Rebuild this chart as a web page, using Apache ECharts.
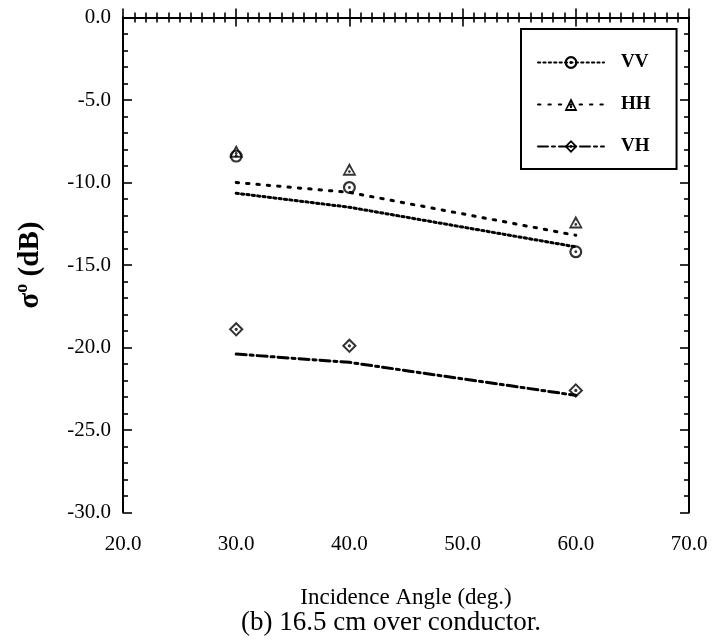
<!DOCTYPE html>
<html>
<head>
<meta charset="utf-8">
<script src="https://cdn.jsdelivr.net/npm/echarts@6/dist/echarts.min.js"></script>
<style>
html,body{margin:0;padding:0;background:#fff;}
#chart{width:714px;height:643px;}
</style>
</head>
<body>
<div id="chart"></div>
<script>
// ---- data ----
const angles = [30, 40, 60];
const vvMeasured = [-8.4, -10.3, -14.2];
const hhMeasured = [-8.1, -9.2, -12.4];
const vhMeasured = [-18.9, -19.9, -22.6];
const vvModel = [-10.65, -11.5, -13.9];
const hhModel = [-10.0, -10.6, -13.2];
const vhModel = [-20.4, -20.9, -22.9];
const xTickValues = [20, 30, 40, 50, 60, 70];
const yTickValues = [0, -5, -10, -15, -20, -25, -30];
const seriesNames = ['VV', 'HH', 'VH'];

// ---- symbols ----
const symCircle = 'path://M0,-10A10,10,0,1,1,0,10A10,10,0,1,1,0,-10ZM0,-6.6A6.6,6.6,0,1,0,0,6.6A6.6,6.6,0,1,0,0,-6.6ZM0,-2.2A2.2,2.2,0,1,1,0,2.2A2.2,2.2,0,1,1,0,-2.2Z';
const symTriangle = 'path://M0,-11L10,7L-10,7ZM0,-5.2L-6,4.2L6,4.2ZM0,-0.8A2,2,0,1,1,0,3.2A2,2,0,1,1,0,-0.8Z';
const symDiamond = 'path://M0,-10L10,0L0,10L-10,0ZM0,-6.2L-6.2,0L0,6.2L6.2,0ZM0,-2.2A2.2,2.2,0,1,1,0,2.2A2.2,2.2,0,1,1,0,-2.2Z';

const pair = (xs, ys) => xs.map((x, i) => [x, ys[i]]);
const serif = '"Liberation Serif","DejaVu Serif",serif';
const black = '#000';

function lineSeries(name, vals, dash, sym) {
  return {
    name: name, type: 'line', data: pair(angles, vals),
    symbol: sym, showSymbol: false, symbolSize: 12,
    itemStyle: {color: black},
    lineStyle: {color: black, width: 3, type: dash, cap: 'round'},
    xAxisIndex: 0, yAxisIndex: 0, z: 3, silent: true
  };
}
function scatterSeries(name, vals, sym, size) {
  return {
    name: name, type: 'scatter', data: pair(angles, vals),
    symbol: sym, symbolSize: size,
    itemStyle: {color: black},
    xAxisIndex: 0, yAxisIndex: 0, z: 4
  };
}

const axisLineStyle = {color: black, width: 2};
const tickStyle = {color: black, width: 1.6};

const option = {
  backgroundColor: '#fff',
  animation: false,
  grid: {left: 123, right: 25, top: 17.5, bottom: 130.5},
  legend: {
    data: seriesNames,
    orient: 'vertical',
    left: 521, top: 29,
    itemWidth: 66, itemHeight: 16, itemGap: 23,
    padding: [24, 26, 13, 16],
    borderColor: black, borderWidth: 2,
    backgroundColor: '#fff',
    textStyle: {fontFamily: serif, fontSize: 19, fontWeight: 'bold', color: black, padding: [0, 0, 0, 12]},
    selectedMode: false
  },
  title: {
    text: '(b) 16.5 cm over conductor.',
    left: 386, top: 604, textAlign: 'center',
    textStyle: {fontFamily: serif, fontSize: 27, fontWeight: 'normal', color: black}
  },
  xAxis: [{
    type: 'value', min: xTickValues[0], max: xTickValues[xTickValues.length - 1], interval: 10,
    position: 'bottom',
    name: 'Incidence Angle (deg.)', nameLocation: 'middle', nameGap: 74,
    nameTextStyle: {fontFamily: serif, fontSize: 23, color: black},
    axisLine: {lineStyle: axisLineStyle},
    axisTick: {inside: true, length: 9, lineStyle: tickStyle},
    minorTick: {show: true, splitNumber: 10, length: 5, lineStyle: tickStyle},
    splitLine: {show: false},
    axisLabel: {formatter: v => v.toFixed(1), fontFamily: serif, fontSize: 21, color: black, margin: 21}
  }, {
    type: 'value', min: xTickValues[0], max: xTickValues[xTickValues.length - 1], interval: 10,
    position: 'top',
    axisLine: {lineStyle: axisLineStyle},
    axisTick: {inside: true, length: 9, lineStyle: tickStyle},
    minorTick: {show: true, splitNumber: 10, length: 5, lineStyle: tickStyle},
    splitLine: {show: false},
    axisLabel: {show: false}
  }],
  yAxis: [{
    type: 'value', min: yTickValues[yTickValues.length - 1], max: yTickValues[0], interval: 5,
    position: 'left',
    name: '{s|σ}{o|o}{s| (dB)}', nameLocation: 'middle', nameGap: 78, nameRotate: 90,
    nameTextStyle: {
      fontFamily: serif, color: black,
      rich: {
        s: {fontFamily: serif, fontSize: 29, color: black, fontWeight: 'bold', verticalAlign: 'bottom'},
        o: {fontFamily: serif, fontSize: 18, color: black, fontWeight: 'bold', verticalAlign: 'top', padding: [0, 0, 14, 0]}
      }
    },
    axisLine: {lineStyle: axisLineStyle},
    axisTick: {inside: true, length: 9, lineStyle: tickStyle},
    minorTick: {show: true, splitNumber: 5, length: 5, lineStyle: tickStyle},
    splitLine: {show: false},
    axisLabel: {formatter: v => v.toFixed(1), fontFamily: serif, fontSize: 21, color: black, margin: 12}
  }, {
    type: 'value', min: yTickValues[yTickValues.length - 1], max: yTickValues[0], interval: 5,
    position: 'right',
    axisLine: {lineStyle: axisLineStyle},
    axisTick: {inside: true, length: 9, lineStyle: tickStyle},
    minorTick: {show: true, splitNumber: 5, length: 5, lineStyle: tickStyle},
    splitLine: {show: false},
    axisLabel: {show: false}
  }],
  series: [
    lineSeries('VV', vvModel, [2.2, 3.2], symCircle),
    lineSeries('HH', hhModel, [2.4, 8], symTriangle),
    lineSeries('VH', vhModel, [10, 4, 3, 4], symDiamond),
    scatterSeries('VV', vvMeasured, symCircle, 13),
    scatterSeries('HH', hhMeasured, symTriangle, [14, 13]),
    scatterSeries('VH', vhMeasured, symDiamond, 15)
  ]
};

const chart = echarts.init(document.getElementById('chart'), null, {renderer: 'canvas'});
chart.setOption(option);
</script>
</body>
</html>
